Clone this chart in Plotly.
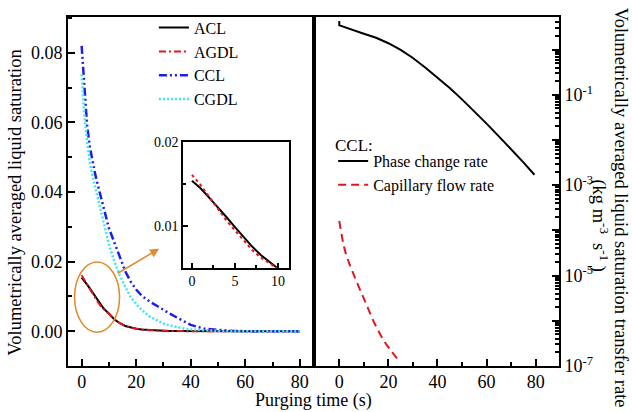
import plotly.graph_objects as go

# ---- liquid saturation vs purging time (left panel + inset) ----
t_sat = [0, 1, 2, 3, 4, 5, 6, 7, 8, 9, 10, 12, 14, 16, 18, 20, 22, 25, 28, 30,
         32, 35, 38, 40, 45, 50, 55, 60, 70, 80]
acl = [0.0154, 0.0145, 0.0134, 0.0123, 0.0111, 0.0099, 0.0087, 0.0076, 0.0066, 0.0058,
       0.0051, 0.0034, 0.0023, 0.0015, 0.0010, 0.0007, 0.0005, 0.0003, 0.00018, 0.00012,
       0.00008, 0.00005, 0.00003, 0.00002, 0.00001, 0, 0, 0, 0, 0]
agdl = [0.0161, 0.0149, 0.0135, 0.0121, 0.0107, 0.0095, 0.0083, 0.0072, 0.0063, 0.0056,
        0.0050, 0.0034, 0.0023, 0.0015, 0.0010, 0.0007, 0.0005, 0.0003, 0.00017, 0.00011,
        0.00007, 0.00004, 0.00002, 0.00001, 0, 0, 0, 0, 0, 0]
ccl = [0.0820, 0.0690, 0.0592, 0.0530, 0.0485, 0.0450, 0.0418, 0.0388, 0.0360, 0.0327,
       0.0296, 0.0255, 0.0212, 0.0172, 0.0142, 0.0120, 0.0102, 0.0085, 0.0071, 0.0061,
       0.0052, 0.0039, 0.0025, 0.0018, 0.0007, 0.0003, 0.0001, 0, 0, 0]
cgdl = [0.0738, 0.0620, 0.0545, 0.0485, 0.0445, 0.0412, 0.0383, 0.0350, 0.0312, 0.0280,
        0.0250, 0.0200, 0.0160, 0.0127, 0.0098, 0.0078, 0.0061, 0.0042, 0.0029, 0.0022,
        0.0017, 0.0011, 0.0007, 0.0005, 0.0002, 0.0001, 0, 0, 0, 0]

# ---- CCL transfer rates (right panel, log scale) ----
t_phase = [0, 0, 1, 5, 10, 15, 20, 25, 30, 35, 40, 45, 50, 55, 60, 65, 70, 75, 79.5]
phase_rate = [4.3, 3.45, 3.3, 2.75, 2.24, 1.82, 1.38, 0.98, 0.65, 0.40, 0.24, 0.141,
              0.079, 0.043, 0.023, 0.012, 0.0063, 0.0032, 0.0017]
t_cap = [0, 2.5, 6.5, 10.5, 14.5, 18.5, 23.5]
cap_rate = [1.62e-4, 3.3e-5, 8.7e-6, 2.7e-6, 8.5e-7, 3.4e-7, 1.48e-7]

log_tickvals = [10.0 ** k for k in range(-7, 1)]
log_ticktext = ["10<sup>-7</sup>", "", "10<sup>-5</sup>", "", "10<sup>-3</sup>", "",
                "10<sup>-1</sup>", ""]
log_minor = [m * 10.0 ** k for k in range(-7, 1) for m in range(2, 10)]

FONT = "Liberation Serif, Times New Roman, serif"
RED = "#E3161E"
BLUE = "#1E1EE8"
CYAN = "#3FE6F2"
ORANGE = "#E08A2C"
TICK_SIZE = 18
TITLE_SIZE = 18
LEGEND_SIZE = 16

fig = go.Figure()

# main saturation curves
fig.add_trace(go.Scatter(x=t_sat, y=acl, name="ACL", mode="lines",
                         line=dict(color="black", width=2), xaxis="x", yaxis="y"))
fig.add_trace(go.Scatter(x=t_sat, y=agdl, name="AGDL", mode="lines",
                         line=dict(color=RED, width=2, dash="7px,3px,2px,3px"),
                         xaxis="x", yaxis="y"))
fig.add_trace(go.Scatter(x=t_sat, y=ccl, name="CCL", mode="lines",
                         line=dict(color=BLUE, width=2.5, dash="8px,3px,2px,3px,2px,3px"),
                         xaxis="x", yaxis="y"))
fig.add_trace(go.Scatter(x=t_sat, y=cgdl, name="CGDL", mode="lines",
                         line=dict(color=CYAN, width=2.5, dash="2px,2px"),
                         xaxis="x", yaxis="y"))

# inset: anode curves over the first 10 s
fig.add_trace(go.Scatter(x=t_sat, y=acl, mode="lines", showlegend=False,
                         line=dict(color="black", width=2), xaxis="x3", yaxis="y3"))
fig.add_trace(go.Scatter(x=t_sat, y=agdl, mode="lines", showlegend=False,
                         line=dict(color=RED, width=2, dash="3px,3px"),
                         xaxis="x3", yaxis="y3"))

# transfer rates
fig.add_trace(go.Scatter(x=t_phase, y=phase_rate, name="Phase change rate", mode="lines",
                         line=dict(color="black", width=2), xaxis="x2", yaxis="y2",
                         legend="legend2"))
fig.add_trace(go.Scatter(x=t_cap, y=cap_rate, name="Capillary flow rate", mode="lines",
                         line=dict(color=RED, width=2, dash="8px,5px", shape="spline"),
                         xaxis="x2", yaxis="y2", legend="legend2"))

axis_common = dict(showline=True, linecolor="black", linewidth=2, mirror=True,
                   ticks="inside", ticklen=7, tickwidth=1.5, tickcolor="black",
                   showgrid=False, zeroline=False,
                   tickfont=dict(family=FONT, size=TICK_SIZE, color="black"))
inset_common = {**axis_common, "linewidth": 1.5, "ticklen": 5,
                "tickfont": dict(family=FONT, size=14, color="black")}

fig.update_layout(
    width=632, height=412,
    margin=dict(l=68, r=73, t=11, b=46),
    paper_bgcolor="white", plot_bgcolor="white",
    font=dict(family=FONT, size=17, color="black"),
    xaxis=dict(domain=[0, 0.5], range=[-5, 85], dtick=20, tick0=0,
               ticklabelstandoff=-2,
               minor=dict(dtick=10, ticks="inside", ticklen=4, tickcolor="black"),
               anchor="y", **axis_common),
    yaxis=dict(domain=[0, 1], range=[-0.01, 0.0903], dtick=0.02, tick0=0,
               tickformat=".2f",
               minor=dict(dtick=0.01, ticks="inside", ticklen=4, tickcolor="black"),
               anchor="x", **axis_common),
    xaxis2=dict(domain=[0.5, 1], range=[-10.5, 89.5], dtick=20, tick0=0,
                ticklabelstandoff=-2,
                minor=dict(dtick=10, ticks="inside", ticklen=4, tickcolor="black"),
                anchor="y2", **axis_common),
    yaxis2=dict(domain=[0, 1], type="log", range=[-7, 0.72], side="right",
                tickmode="array", tickvals=log_tickvals, ticktext=log_ticktext,
                minor=dict(tickmode="array", tickvals=log_minor, ticks="inside",
                           ticklen=4, tickcolor="black"),
                anchor="x2", **axis_common),
    xaxis3=dict(domain=[0.2342, 0.4501], range=[-1.04, 11.28], dtick=5, tick0=0,
                minor=dict(dtick=2.5, ticks="inside", ticklen=3, tickcolor="black"),
                anchor="y3", **inset_common),
    yaxis3=dict(domain=[0.2817, 0.6423], range=[0.0051, 0.02], dtick=0.01, tick0=0,
                tickformat=".2f",
                minor=dict(dtick=0.005, ticks="inside", ticklen=3, tickcolor="black"),
                anchor="x3", **inset_common),
    legend=dict(x=0.175, y=1.018, xanchor="left", yanchor="top",
                bgcolor="rgba(0,0,0,0)", borderwidth=0, tracegroupgap=0,
                font=dict(family=FONT, size=LEGEND_SIZE)),
    legend2=dict(x=0.54, y=0.636, xanchor="left", yanchor="top",
                 bgcolor="rgba(0,0,0,0)", borderwidth=0,
                 font=dict(family=FONT, size=LEGEND_SIZE)),
    showlegend=True,
)

# ellipse around the early anode curves and the pointer to the inset
fig.add_shape(type="circle", xref="x", yref="y", x0=-2.6, x1=13.9, y0=-0.0003, y1=0.0199,
              line=dict(color=ORANGE, width=1.5))
fig.add_annotation(xref="x", yref="y", axref="x", ayref="y", x=28.4, y=0.0237,
                   ax=12.7, ay=0.0164, text="", showarrow=True, arrowhead=2,
                   arrowsize=1.2, arrowwidth=1.5, arrowcolor=ORANGE)

# heading of the rate legend
fig.add_annotation(xref="paper", yref="paper", x=0.5397, y=0.632, xanchor="left",
                   yanchor="middle", text="CCL:", showarrow=False,
                   font=dict(family=FONT, size=LEGEND_SIZE + 1))

# axis titles
fig.add_annotation(xref="paper", yref="paper", x=0.499, y=-0.098, xanchor="center",
                   yanchor="middle", text="Purging time (s)", showarrow=False,
                   font=dict(family=FONT, size=TITLE_SIZE))
fig.add_annotation(xref="paper", yref="paper", x=-0.108, y=0.468, xanchor="center",
                   yanchor="middle", textangle=-90,
                   text="Volumetrically averaged liquid saturation", showarrow=False,
                   font=dict(family=FONT, size=TITLE_SIZE + 0.5))
fig.add_annotation(xref="paper", yref="paper", x=1.128, y=0.454, xanchor="center",
                   yanchor="middle", textangle=90,
                   text="Volumetrically averaged liquid saturation transfer rate",
                   showarrow=False, font=dict(family=FONT, size=TITLE_SIZE + 0.5))
fig.add_annotation(xref="paper", yref="paper", x=1.0835, y=0.40, xanchor="center",
                   yanchor="middle", textangle=90,
                   text="(kg m<sup>-3</sup>\u00a0 s<sup>-1</sup>\u00a0)",
                   showarrow=False, font=dict(family=FONT, size=TITLE_SIZE + 0.5))

fig.write_html("out.html")
